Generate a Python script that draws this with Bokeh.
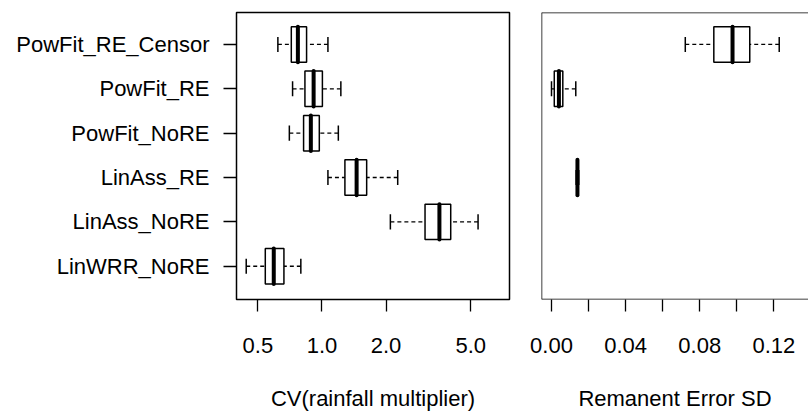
import numpy as np
from bokeh.plotting import figure
from bokeh.layouts import row
from bokeh.models import ColumnDataSource, Range1d, FixedTicker, NumeralTickFormatter, Span
from bokeh.embed import file_html
from bokeh.resources import INLINE

# categories from bottom to top
categories = ["LinWRR_NoRE", "LinAss_NoRE", "LinAss_RE",
              "PowFit_NoRE", "PowFit_RE", "PowFit_RE_Censor"]

# CV(rainfall multiplier) box stats
cv_low = [0.441, 2.096, 1.067, 0.703, 0.728, 0.621]
cv_q1 = [0.542, 3.049, 1.282, 0.820, 0.832, 0.718]
cv_med = [0.594, 3.562, 1.455, 0.887, 0.914, 0.771]
cv_q3 = [0.663, 4.025, 1.622, 0.972, 1.005, 0.847]
cv_high = [0.796, 5.410, 2.269, 1.194, 1.227, 1.067]

# Remanent Error SD box stats (NaN = model without random effect)
sd_low = [np.nan, np.nan, 0.0133, np.nan, 0.0000, 0.0722]
sd_q1 = [np.nan, np.nan, 0.0137, np.nan, 0.0015, 0.0876]
sd_med = [np.nan, np.nan, 0.0140, np.nan, 0.0040, 0.0977]
sd_q3 = [np.nan, np.nan, 0.0143, np.nan, 0.0061, 0.1070]
sd_high = [np.nan, np.nan, 0.0147, np.nan, 0.0131, 0.1229]

cv_ticks = [0.5, 1.0, 2.0, 5.0]
sd_ticks = [0.00, 0.04, 0.08, 0.12]
sd_minor_ticks = [0.02, 0.06, 0.10]

FONT = "Liberation Sans"
FS = "22px"
BOXW = 0.8
CAPW = 0.34


def draw_boxes(p, lo, q1, med, q3, hi):
    lo, q1, med, q3, hi = map(np.asarray, (lo, q1, med, q3, hi))
    y = np.arange(1, len(categories) + 1, dtype=float)
    keep = ~np.isnan(med)
    d = dict(y=y[keep], lo=lo[keep], q1=q1[keep], med=med[keep], q3=q3[keep], hi=hi[keep])
    d["yb0"] = d["y"] - BOXW / 2
    d["yb1"] = d["y"] + BOXW / 2
    d["yc0"] = d["y"] - CAPW / 2
    d["yc1"] = d["y"] + CAPW / 2
    src = ColumnDataSource(d)
    p.segment(x0="lo", y0="y", x1="q1", y1="y", source=src, line_color="black",
              line_width=1.3, line_dash="4 3")
    p.segment(x0="hi", y0="y", x1="q3", y1="y", source=src, line_color="black",
              line_width=1.3, line_dash="4 3")
    p.segment(x0="lo", y0="yc0", x1="lo", y1="yc1", source=src, line_color="black", line_width=1.5)
    p.segment(x0="hi", y0="yc0", x1="hi", y1="yc1", source=src, line_color="black", line_width=1.5)
    p.hbar(y="y", left="q1", right="q3", height=BOXW, source=src, fill_color="white",
           line_color="black", line_width=1.5)
    p.segment(x0="med", y0="yb0", x1="med", y1="yb1", source=src, line_color="black",
              line_width=4, line_cap="round")


def style(p, label):
    p.xaxis.axis_label = label
    p.xaxis.axis_label_text_font = FONT
    p.xaxis.axis_label_text_font_size = FS
    p.xaxis.axis_label_text_font_style = "normal"
    p.xaxis.axis_label_text_color = "black"
    p.xaxis.axis_label_standoff = 30
    p.xaxis.major_label_text_font = FONT
    p.xaxis.major_label_text_font_size = FS
    p.xaxis.major_label_text_color = "black"
    p.xaxis.major_label_standoff = 26
    p.xaxis.major_tick_out = 12
    p.xaxis.major_tick_in = 0
    p.xaxis.major_tick_line_width = 1.3
    p.xaxis.major_tick_line_color = "black"
    p.xaxis.axis_line_color = None
    p.xgrid.visible = False
    p.ygrid.visible = False
    p.background_fill_color = "white"
    p.border_fill_color = "white"


y_range = Range1d(0.25, 6.72)

p1 = figure(width=520, height=413, x_axis_type="log", x_range=Range1d(0.397, 7.6),
            y_range=y_range, output_backend="svg", toolbar_location=None,
            min_border_left=236, min_border_right=11, min_border_top=12, min_border_bottom=112)
style(p1, "CV(rainfall multiplier)")
p1.xaxis.ticker = FixedTicker(ticks=cv_ticks, minor_ticks=[])
p1.xaxis.formatter = NumeralTickFormatter(format="0.0")
p1.yaxis.ticker = FixedTicker(ticks=list(range(1, len(categories) + 1)), minor_ticks=[])
p1.yaxis.major_label_overrides = {i + 1: c for i, c in enumerate(categories)}
p1.yaxis.major_label_text_font = FONT
p1.yaxis.major_label_text_font_size = FS
p1.yaxis.major_label_text_color = "black"
p1.yaxis.major_label_standoff = 14
p1.yaxis.major_tick_out = 13
p1.yaxis.major_tick_in = 0
p1.yaxis.major_tick_line_width = 1.3
p1.yaxis.major_tick_line_color = "black"
p1.yaxis.axis_line_color = None
p1.outline_line_color = "black"
p1.outline_line_width = 1.5
p1.outline_line_alpha = 1.0
draw_boxes(p1, cv_low, cv_q1, cv_med, cv_q3, cv_high)

p2 = figure(width=288, height=413, x_range=Range1d(-0.0054, 0.1387), y_range=y_range,
            output_backend="svg", toolbar_location=None,
            min_border_left=21, min_border_right=0, min_border_top=12, min_border_bottom=112)
style(p2, "Remanent Error SD")
p2.xaxis.ticker = FixedTicker(ticks=sd_ticks, minor_ticks=sd_minor_ticks)
p2.xaxis.formatter = NumeralTickFormatter(format="0.00")
p2.xaxis.minor_tick_out = 12
p2.xaxis.minor_tick_in = 0
p2.xaxis.minor_tick_line_width = 1.3
p2.xaxis.minor_tick_line_color = "black"
p2.yaxis.visible = False
p2.outline_line_color = None
for loc, dim in [(y_range.start, "width"), (y_range.end, "width")]:
    p2.add_layout(Span(location=loc, dimension=dim, line_color="black", line_width=1.5))
p2.add_layout(Span(location=p2.x_range.start, dimension="height", line_color="black", line_width=1.5))
draw_boxes(p2, sd_low, sd_q1, sd_med, sd_q3, sd_high)

layout = row(p1, p2)
open("out.html", "w").write(file_html(layout, INLINE))
